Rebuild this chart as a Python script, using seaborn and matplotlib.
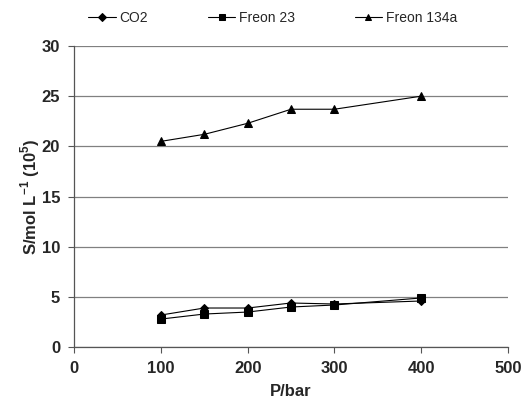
import matplotlib
matplotlib.use("Agg")
import matplotlib.pyplot as plt
import seaborn as sns
import pandas as pd

pressure = [100, 150, 200, 250, 300, 400]
co2 = [3.2, 3.9, 3.9, 4.4, 4.3, 4.6]
freon23 = [2.8, 3.3, 3.5, 4.0, 4.2, 4.9]
freon134a = [20.5, 21.2, 22.3, 23.7, 23.7, 25.0]
series_names = ["CO2", "Freon 23", "Freon 134a"]

df = pd.DataFrame({
    "P": pressure * 3,
    "S": co2 + freon23 + freon134a,
    "gas": [series_names[0]] * 6 + [series_names[1]] * 6 + [series_names[2]] * 6,
})

sns.set_theme(style="white")
plt.rcParams['font.family'] = ['Liberation Sans', 'DejaVu Sans']
plt.rcParams['mathtext.fontset'] = 'custom'
plt.rcParams['mathtext.bf'] = 'Liberation Sans:bold'
plt.rcParams['mathtext.rm'] = 'Liberation Sans'

fig = plt.figure(figsize=(5.22, 4.07), dpi=100)
ax = fig.add_axes([0.142, 0.147, 0.831, 0.740])

sizes = {"D": 4.5, "s": 5.5, "^": 5.5}
sns.lineplot(data=df, x="P", y="S", hue="gas", style="gas",
             palette=["black", "black", "black"],
             markers={"CO2": "D", "Freon 23": "s", "Freon 134a": "^"},
             dashes=False, linewidth=0.8, markeredgecolor="black",
             ax=ax, legend=True)
for ln in ax.lines:
    m = ln.get_marker()
    if m in sizes:
        ln.set_markersize(sizes[m])

ax.set_xlim(0, 500)
ax.set_ylim(0, 30)
ax.set_xticks([0, 100, 200, 300, 400, 500])
ax.set_yticks([0, 5, 10, 15, 20, 25, 30])
ax.yaxis.grid(True, color="#808080", linewidth=0.9)
ax.xaxis.grid(False)
for s in ["top", "right"]:
    ax.spines[s].set_visible(False)
for s in ["left", "bottom"]:
    ax.spines[s].set_color("#555555")
    ax.spines[s].set_linewidth(0.9)
ax.tick_params(axis="both", direction="out", length=4, width=0.8, color="#555555",
               labelsize=12, bottom=True, left=True, pad=6)
for lbl in ax.get_xticklabels() + ax.get_yticklabels():
    lbl.set_fontweight("bold")
ax.set_xlabel("P/bar", fontsize=12, fontweight="bold", labelpad=6)
ax.set_ylabel(r"S/mol L$^{\mathbf{-1}}$ (10$^{\mathbf{5}}$)", fontsize=12, fontweight="bold", labelpad=0)

handles, labels = ax.get_legend_handles_labels()
ax.get_legend().remove()
for h in handles:
    m = h.get_marker()
    h.set_markersize(sizes.get(m, 5) - 0.5)
fig.legend(handles, labels, loc="center left", bbox_to_anchor=(0.158, 0.955),
           ncol=3, frameon=False, fontsize=10, handlelength=2.0, columnspacing=4.3,
           handletextpad=0.25, borderaxespad=0)

fig.savefig("out.png", dpi=100)
